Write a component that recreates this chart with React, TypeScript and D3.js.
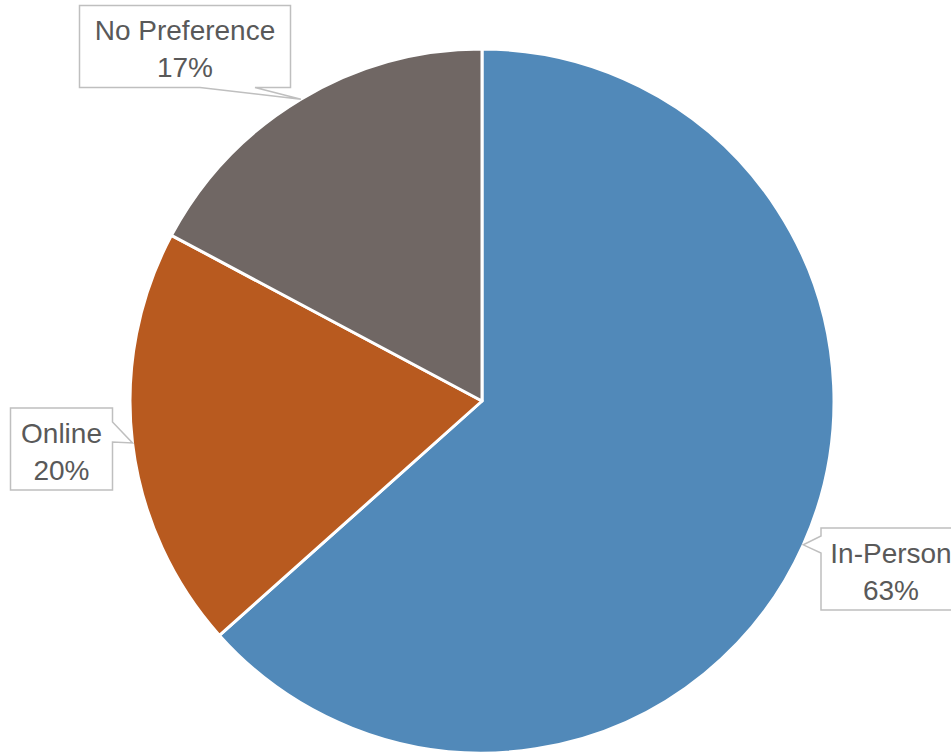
import React from "react";
import * as d3 from "d3";

const categories = ["In-Person", "Online", "No Preference"];
const values = [63.4, 19.4, 17.2];
const percentLabels = ["63%", "20%", "17%"];
const colors = ["#5189B9", "#B85A1F", "#706764"];

const W = 951;
const H = 754;
const cx = 482;
const cy = 401;
const R = 352;

type Box = { x: number; y: number; w: number; h: number; side: "left" | "right" | "bottom"; b1: number; b2: number };
const boxes: Box[] = [
  { x: 821, y: 528, w: 140, h: 82, side: "left", b1: 536, b2: 553 },
  { x: 10.5, y: 408, w: 102, h: 82, side: "right", b1: 422, b2: 442 },
  { x: 79.5, y: 5.5, w: 211, h: 82, side: "bottom", b1: 200, b2: 255 },
];

function calloutPath(b: Box, tip: [number, number]) {
  const { x, y, w, h } = b;
  const pts: [number, number][] = [];
  pts.push([x, y], [x + w, y]);
  if (b.side === "right") pts.push([x + w, b.b1], tip, [x + w, b.b2]);
  pts.push([x + w, y + h]);
  if (b.side === "bottom") pts.push([b.b2, y + h], tip, [b.b1, y + h]);
  pts.push([x, y + h]);
  if (b.side === "left") pts.push([x, b.b2], tip, [x, b.b1]);
  return "M" + pts.map((p) => p.join(",")).join("L") + "Z";
}

export default function App() {
  const pie = d3.pie<number>().sort(null).value((d) => d);
  const arcs = pie(values);
  const arc = d3.arc<d3.PieArcDatum<number>>().innerRadius(0).outerRadius(R);
  const edge = d3.arc<d3.PieArcDatum<number>>().innerRadius(R).outerRadius(R);

  return (
    <svg
      width={W}
      height={H}
      style={{ position: "absolute", left: 0, top: 0, background: "#fff" }}
      fontFamily="'Liberation Sans', Arial, sans-serif"
    >
      <g transform={`translate(${cx},${cy})`}>
        {arcs.map((a, i) => (
          <path key={i} d={arc(a) || ""} fill={colors[i]} stroke="#fff" strokeWidth={3} strokeLinejoin="round" />
        ))}
      </g>
      {arcs.map((a, i) => {
        const c = edge.centroid(a);
        const tip: [number, number] = [c[0] + cx, c[1] + cy];
        const b = boxes[i];
        const mx = b.x + b.w / 2;
        return (
          <g key={"l" + i}>
            <path d={calloutPath(b, tip)} fill="#fff" stroke="#BFBFBF" strokeWidth={1.5} />
            <text x={mx} y={b.y + 34.5} textAnchor="middle" fontSize={28} fill="#595959">
              {categories[i]}
            </text>
            <text x={mx} y={b.y + 71.5} textAnchor="middle" fontSize={28} fill="#595959">
              {percentLabels[i]}
            </text>
          </g>
        );
      })}
    </svg>
  );
}
